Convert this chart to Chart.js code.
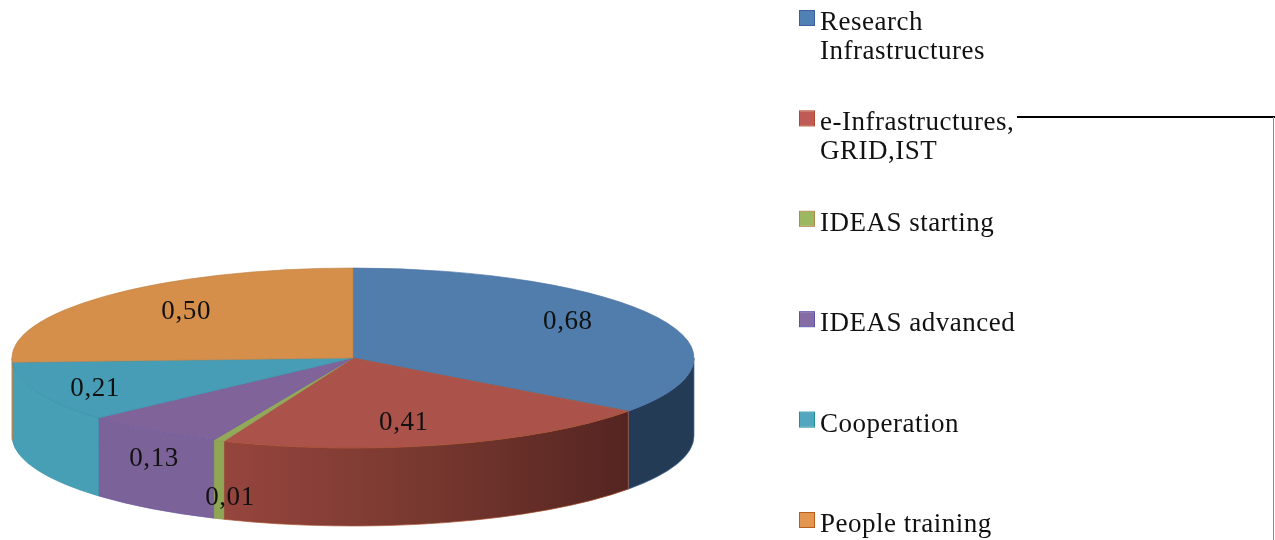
<!DOCTYPE html>
<html>
<head>
<meta charset="utf-8">
<style>
  html, body { margin: 0; background: #fff; }
  canvas { display: block; }
</style>
<script src="https://cdn.jsdelivr.net/npm/chart.js@4/dist/chart.umd.min.js"></script>
</head>
<body>
<canvas id="pie" width="1275" height="540"></canvas>
<script>
// --- data ---
const categories = ['Research Infrastructures', 'e-Infrastructures, GRID,IST', 'IDEAS starting', 'IDEAS advanced', 'Cooperation', 'People training'];
const values = [0.68, 0.41, 0.01, 0.13, 0.21, 0.50];
const legendLines = [['Research', 'Infrastructures'], ['e-Infrastructures,', 'GRID,IST'], ['IDEAS starting'], ['IDEAS advanced'], ['Cooperation'], ['People training']];

// --- colours ---
const topColors = ['#507dab', '#ab534b', '#93a95a', '#7f6399', '#479db5', '#d68f4a'];
const edgeColors = ['#4a6fa8', '#a8502f', '#8a9a50', '#6f5a9f', '#3a8fa8', '#b9834a'];
const sideColors = ['#233b55', '#8f433c', '#8fa755', '#7b6299', '#479fb6', '#c98443'];
const legendFill = ['#5181b4', '#bf5a55', '#9bb75f', '#866ca4', '#51a7bf', '#e2964f'];
const legendEdge = ['#3b5ea0', '#b5482a', '#b08a4a', '#5b52a8', '#1f8f9f', '#b85f1c'];

// label shifts away from the default spot, same order as values
const labelNudge = [[2, -8], [-14, 4], [-29, 82], [-58, 50], [-37, 7], [6, -3]];

// --- 3d look ---
const pieCenterY = 358;
const pieRadius = 341;
const pieSquash = 90 / 341;
const pieDepth = 78;
const FONT = '"Liberation Serif", serif';

function visibleSide(start, end) {
    // front half of the rim is canvas angle 0..PI
    const from = Math.max(start, 0);
    const to = Math.min(end, Math.PI);
    return to > from ? [from, to] : null;
}

const pie3d = {
    id: 'pie3d',
    beforeDatasetsDraw(chart) {
        const ctx = chart.ctx;
        const arcs = chart.getDatasetMeta(0).data;
        const ry = pieRadius * pieSquash;
        ctx.save();
        arcs.forEach((arc, i) => {
            const span = visibleSide(arc.startAngle, arc.endAngle);
            if (!span) return;
            const cx = arc.x;
            ctx.beginPath();
            ctx.ellipse(cx, pieCenterY, pieRadius, ry, 0, span[0], span[1]);
            ctx.ellipse(cx, pieCenterY + pieDepth, pieRadius, ry, 0, span[1], span[0], true);
            ctx.closePath();
            if (i === 1) {
                // the red wall darkens towards the right
                const x0 = cx + pieRadius * Math.cos(span[1]);
                const x1 = cx + pieRadius * Math.cos(span[0]);
                const grad = ctx.createLinearGradient(x0, 0, x1, 0);
                grad.addColorStop(0, '#96453d');
                grad.addColorStop(0.5, '#77382f');
                grad.addColorStop(1, '#552421');
                ctx.fillStyle = grad;
            } else {
                ctx.fillStyle = sideColors[i];
            }
            ctx.fill();
            ctx.strokeStyle = edgeColors[i];
            ctx.lineWidth = 0.7;
            ctx.stroke();
        });
        ctx.restore();
        // squash the round pie into the ellipse
        const first = arcs[0];
        ctx.save();
        ctx.translate(0, pieCenterY);
        ctx.scale(1, pieSquash);
        ctx.translate(0, -first.y);
    },
    afterDatasetsDraw(chart) {
        const ctx = chart.ctx;
        ctx.restore();
        const arcs = chart.getDatasetMeta(0).data;
        ctx.save();
        ctx.font = '27px ' + FONT;
        ctx.letterSpacing = '0.6px';
        ctx.fillStyle = '#111';
        ctx.textAlign = 'center';
        ctx.textBaseline = 'middle';
        arcs.forEach((arc, i) => {
            const mid = (arc.startAngle + arc.endAngle) / 2;
            const x = arc.x + pieRadius * 0.7 * Math.cos(mid) + labelNudge[i][0];
            const y = pieCenterY + pieRadius * pieSquash * 0.7 * Math.sin(mid) + labelNudge[i][1];
            ctx.fillText(values[i].toFixed(2).replace('.', ','), x, y);
        });
        ctx.restore();
    },
    afterDraw(chart) {
        const ctx = chart.ctx;
        ctx.save();
        // legend
        ctx.font = '27px ' + FONT;
        ctx.letterSpacing = '0.5px';
        ctx.textAlign = 'left';
        ctx.textBaseline = 'alphabetic';
        legendLines.forEach((lines, i) => {
            const top = 11 + i * 100.4;
            ctx.fillStyle = legendFill[i];
            ctx.strokeStyle = legendEdge[i];
            ctx.lineWidth = 1;
            ctx.fillRect(800, top, 14, 14);
            ctx.strokeRect(799.5, top - 0.5, 15, 15);
            ctx.fillStyle = '#111';
            lines.forEach((line, n) => ctx.fillText(line, 820, top + 19 + n * 29));
        });
        // stray frame lines of the source figure
        ctx.strokeStyle = '#000';
        ctx.lineWidth = 2;
        ctx.beginPath();
        ctx.moveTo(1017, 117);
        ctx.lineTo(1275, 117);
        ctx.stroke();
        ctx.strokeStyle = '#8a8a8a';
        ctx.lineWidth = 1;
        ctx.beginPath();
        ctx.moveTo(1273.5, 117);
        ctx.lineTo(1273.5, 540);
        ctx.stroke();
        ctx.restore();
    }
};

new Chart(document.getElementById('pie').getContext('2d'), {
    type: 'pie',
    data: {
        labels: categories,
        datasets: [{
            data: values,
            backgroundColor: topColors,
            borderColor: edgeColors,
            borderWidth: 1,
            clip: false
        }]
    },
    options: {
        responsive: false,
        animation: false,
        radius: pieRadius,
        layout: { padding: { right: 569 } },
        plugins: { legend: { display: false }, tooltip: { enabled: false } }
    },
    plugins: [pie3d]
});
</script>
</body>
</html>
